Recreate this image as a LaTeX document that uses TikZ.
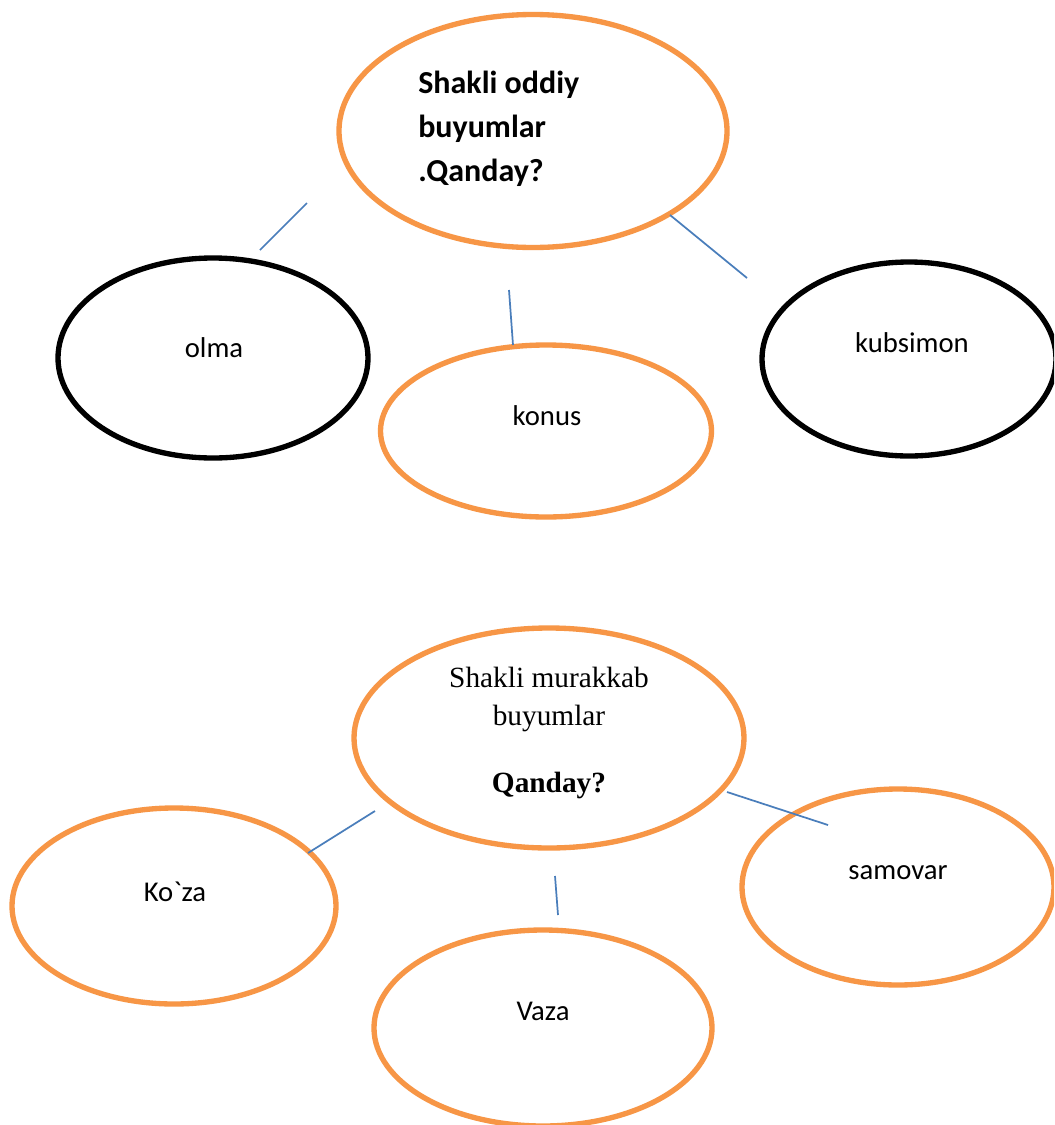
\documentclass[tikz,border=0pt]{standalone}
\usepackage{fontspec}
\setmainfont{Carlito}
\newfontfamily\timesf{Liberation Serif}
\usetikzlibrary{shapes.geometric}
\definecolor{orangeline}{HTML}{F79646}
\definecolor{blueline}{HTML}{4A7EBB}
\tikzset{
  oval/.style={ellipse, inner sep=0pt, line width=4pt},
  orangeoval/.style={oval, draw=orangeline},
  blackoval/.style={oval, draw=black},
  link/.style={draw=blueline, line width=1.3pt},
  lbl/.style={font=\fontsize{21.5}{25}\selectfont}
}
\begin{document}
\begin{tikzpicture}[x=0.75pt,y=-0.75pt]
\useasboundingbox (0,0) rectangle (1054,1125);
\clip (0,0) rectangle (1054,1125);
\fill[white] (0,0) rectangle (1054,1125);

% top group
\node[orangeoval, minimum width=291pt, minimum height=174.75pt] (top) at (533,131) {};
\node[blackoval, minimum width=232.5pt, minimum height=150pt] (olma) at (213,358) {};
\node[orangeoval, minimum width=248.25pt, minimum height=129pt] (konus) at (546,431) {};
\node[blackoval, minimum width=220.5pt, minimum height=145.5pt] (kub) at (909,359) {};

\node[anchor=west, align=left, inner sep=0pt, font=\bfseries\fontsize{24}{33}\selectfont] (toptxt) at (418,129) {Shakli oddiy\\buyumlar\\.Qanday?};
\node[lbl] (olmatxt) at (214,348) {olma};
\node[lbl] (konustxt) at (547,416) {konus};
\node[lbl] (kubtxt) at (912,343) {kubsimon};

\coordinate (a1) at (307,203); \coordinate (a2) at (260,250);
\coordinate (b1) at (509,290); \coordinate (b2) at (513,345);
\coordinate (c1) at (670,215); \coordinate (c2) at (747,278);
\draw[link] (a1) -- (a2);
\draw[link] (b1) -- (b2);
\draw[link] (c1) -- (c2);

% bottom group
\node[orangeoval, minimum width=292.5pt, minimum height=165pt] (bot) at (549,738) {};
\node[orangeoval, minimum width=243pt, minimum height=147pt] (koza) at (174,906) {};
\node[orangeoval, minimum width=253.5pt, minimum height=147pt] (vaza) at (543,1028) {};
\node[orangeoval, minimum width=234pt, minimum height=147pt] (samovar) at (898,887) {};

\node[align=center, inner sep=0pt, font=\timesf\fontsize{22}{28.5}\selectfont] (bottxt) at (549,699) {Shakli murakkab\\buyumlar};
\node[inner sep=0pt, font=\timesf\bfseries\fontsize{22}{26}\selectfont] (botq) at (549,785) {Qanday?};
\node[lbl] (kozatxt) at (175,892) {Ko\textasciigrave za};
\node[lbl] (vazatxt) at (543,1011) {Vaza};
\node[lbl] (samtxt) at (898,873) {samovar};

\coordinate (d1) at (375,811); \coordinate (d2) at (308,853);
\coordinate (e1) at (555,876); \coordinate (e2) at (558,915);
\coordinate (f1) at (727,792); \coordinate (f2) at (828,825);
\draw[link] (d1) -- (d2);
\draw[link] (e1) -- (e2);
\draw[link] (f1) -- (f2);
\end{tikzpicture}
\end{document}
